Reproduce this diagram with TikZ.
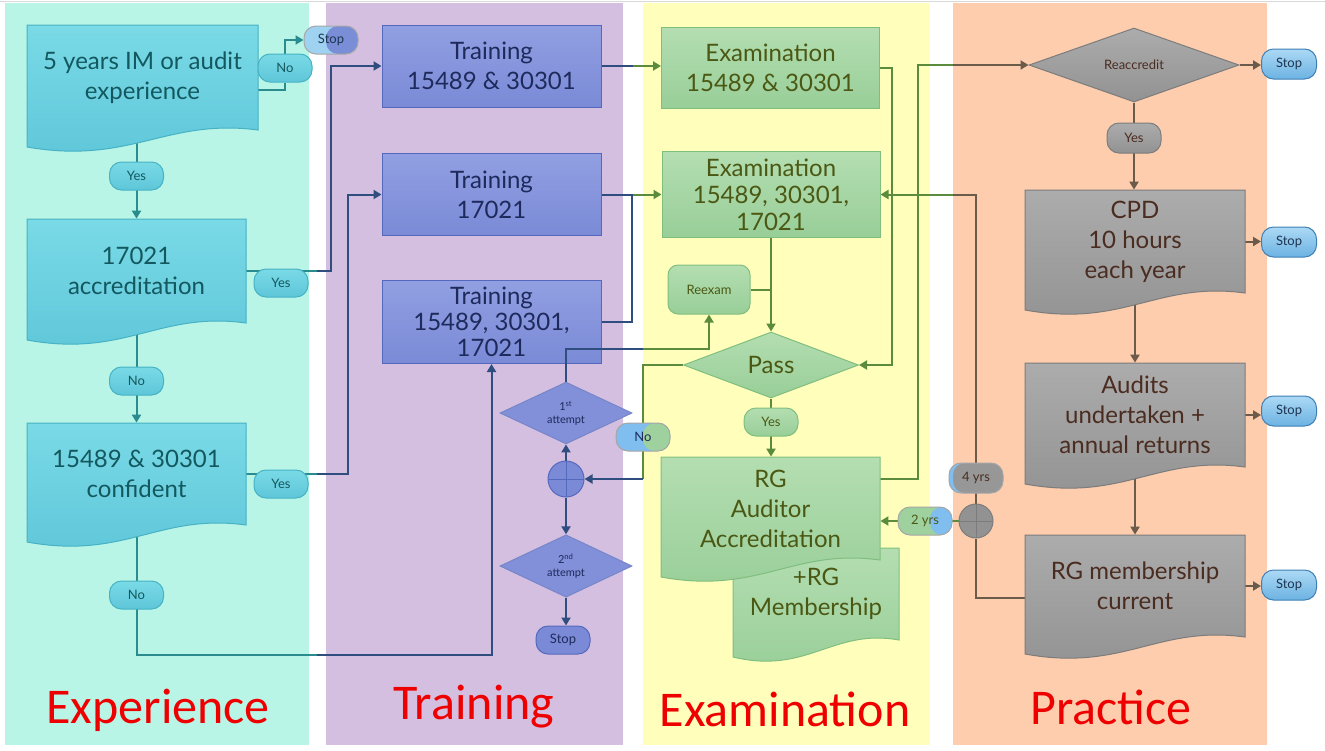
\documentclass[tikz,border=0pt]{standalone}
\usepackage{fontspec}
\setmainfont{Lato}
\newfontfamily\titlefont{Carlito}
\usetikzlibrary{shapes.geometric,arrows.meta}
\pgfdeclarelayer{bands}
\pgfdeclarelayer{lines}
\pgfsetlayers{bands,lines,main}
\definecolor{expband}{HTML}{B9F5E6}
\definecolor{trband}{HTML}{D5BFE0}
\definecolor{exband}{HTML}{FFFFBB}
\definecolor{prband}{HTML}{FDCDAE}
\definecolor{exptop}{HTML}{7ADAE6}
\definecolor{expbot}{HTML}{5EC6D9}
\definecolor{expdraw}{HTML}{46B2C4}
\definecolor{exptext}{HTML}{13585F}
\definecolor{expline}{HTML}{2B8C8F}
\definecolor{trtop}{HTML}{919FE2}
\definecolor{trbot}{HTML}{7A8AD6}
\definecolor{trdraw}{HTML}{5468BC}
\definecolor{trtext}{HTML}{1E2A5C}
\definecolor{trline}{HTML}{2F4D7E}
\definecolor{extop}{HTML}{B4DEB1}
\definecolor{exbot}{HTML}{98CE98}
\definecolor{exdraw}{HTML}{80BE80}
\definecolor{extext}{HTML}{4B5814}
\definecolor{exline}{HTML}{5B8C3E}
\definecolor{prtop}{HTML}{ACACAC}
\definecolor{prbot}{HTML}{929292}
\definecolor{prdraw}{HTML}{7C7C7C}
\definecolor{prtext}{HTML}{4A2C20}
\definecolor{prline}{HTML}{6B5B4B}
\definecolor{stoptop}{HTML}{ACD9F5}
\definecolor{stopbot}{HTML}{6CB2E2}
\definecolor{stopdraw}{HTML}{3F7FB5}
\definecolor{stoptext}{HTML}{1D3550}
\definecolor{splitblue}{HTML}{80BEEF}
\definecolor{titlered}{HTML}{EE0000}
\begin{document}
\begin{tikzpicture}[x=0.5pt,y=-0.5pt,
  txt/.style={align=center,font=\fontsize{12}{15}\selectfont},
  conn/.style={line width=1pt},
  arr/.style={arrows=-{Triangle[length=4pt,width=4.5pt]}},
  pill/.style={rounded corners=6pt,minimum width=27pt,minimum height=14pt,inner sep=0pt,
    font=\fontsize{6.5}{7}\selectfont,draw,line width=0.5pt},
  exppill/.style={pill,draw=expdraw,top color=exptop,bottom color=expbot,text=exptext},
  expill/.style={pill,draw=exdraw,top color=extop,bottom color=exbot,text=extext},
  prpill/.style={pill,draw=prdraw,top color=prtop,bottom color=prbot,text=prtext},
  stoppill/.style={pill,minimum width=27.5pt,minimum height=15pt,draw=stopdraw,
    top color=stoptop,bottom color=stopbot,text=stoptext},
  splitpill/.style n args={3}{pill,draw=black!35,fill=#1,
    path picture={\fill[#2] (#3 |- path picture bounding box.north) rectangle (path picture bounding box.south east);}},
  expdoc/.style={draw=expdraw,line width=0.5pt,top color=exptop,bottom color=expbot},
  exdoc/.style={draw=exdraw,line width=0.5pt,top color=extop,bottom color=exbot},
  prdoc/.style={draw=prdraw,line width=0.5pt,top color=prtop,bottom color=prbot},
  trbox/.style={txt,text=trtext,draw=trdraw,line width=0.5pt,top color=trtop,bottom color=trbot,
    minimum width=109.5pt,minimum height=41pt},
  exbox/.style={txt,text=extext,draw=exdraw,line width=0.5pt,top color=extop,bottom color=exbot,
    minimum width=109pt,minimum height=40.5pt},
  diam/.style={diamond,inner sep=0pt,draw,line width=0.5pt},
  junc/.style={circle,minimum size=18pt,inner sep=0pt,draw,line width=0.5pt,
    path picture={\draw (path picture bounding box.west) -- (path picture bounding box.east)
      (path picture bounding box.north) -- (path picture bounding box.south);}},
  title/.style={font=\titlefont\fontsize{25}{30}\selectfont,text=titlered}]
\useasboundingbox (0,0) rectangle (1325,750);

% column bands
\begin{pgfonlayer}{bands}
\fill[white] (0,0) rectangle (1325,750);
\draw[black!15] (0,1) -- (1325,1);
\fill[expband] (5,3) rectangle (309,745);
\fill[trband] (326,3) rectangle (623,745);
\fill[exband] (643,3) rectangle (930,745);
\fill[prband] (953,3) rectangle (1267,745);
\end{pgfonlayer}

\coordinate (expR) at (317,0);
\coordinate (trL) at (326,0);
\coordinate (trR) at (633,0);
\coordinate (exL) at (643,0);
\coordinate (exR) at (930,0);
\coordinate (prL) at (953,0);
\coordinate (bot) at (0,655);
\coordinate (reexturn) at (643,349);
\coordinate (nocorner) at (643,479);

% Experience
\foreach \nm/\xa/\ya/\xb/\yb/\lbl in {e1/27/25/258/130/{5 years IM or audit\\experience},
    e2/27/219/246/323/{17021\\accreditation},
    e3/27/423/246/525/{15489 \& 30301\\confident}}
{
  \path[expdoc] (\xa,\ya) -- (\xb,\ya) -- (\xb,\yb)
    .. controls ({\xa+0.6*(\xb-\xa)},\yb-12) and ({\xa+0.45*(\xb-\xa)},\yb+35) .. (\xa,\yb+17) -- cycle;
  \node[txt,text=exptext,minimum width={(\xb-\xa)*0.5pt},minimum height={(\yb-\ya)*0.5pt}]
    (\nm) at ({(\xa+\xb)/2},{(\ya+\yb)/2}) {\lbl};
}
\node[exppill] (no1) at (285,68) {No};
\node[splitpill={stoptop!80!stopbot}{trbot!90!stopbot}{trL},text=stoptext] (stop1) at (331,40) {Stop};
\node[exppill] (yes1) at (136.5,176) {Yes};
\node[exppill] (yes2) at (281,283) {Yes};
\node[exppill] (no2) at (136.5,381) {No};
\node[exppill] (yes3) at (281,484) {Yes};
\node[exppill] (no4) at (136.5,595) {No};

% Training
\node[trbox] (t1) at (491.5,66) {Training\\15489 \& 30301};
\node[trbox] (t2) at (491.5,194.5) {Training\\17021};
\node[trbox,font=\fontsize{12}{13}\selectfont] (t3) at (491.5,322) {Training\\15489, 30301,\\17021};
\node[diam,fill=trbot!95!white,draw=trdraw!80,text=trtext,minimum width=66pt,minimum height=26pt,
  align=center,font=\fontsize{5.5}{6.5}\selectfont] (att1) at (566,413) {1\textsuperscript{st}\\attempt};
\node[junc,fill=trbot,draw=trdraw] (junc1) at (566,479) {};
\node[diam,fill=trbot!95!white,draw=trdraw!80,text=trtext,minimum width=66pt,minimum height=26pt,
  align=center,font=\fontsize{5.5}{6.5}\selectfont] (att2) at (566,566) {2\textsuperscript{nd}\\attempt};
\node[pill,draw=trdraw,fill=trbot,text=trtext] (stop2) at (563,640) {Stop};

% Examination
\node[exbox] (x1) at (770.5,67.5) {Examination\\15489 \& 30301};
\node[exbox,font=\fontsize{12}{13.5}\selectfont] (x2) at (771,194.5) {Examination\\15489, 30301,\\17021};
\node[pill,rounded corners=5pt,minimum width=41pt,minimum height=24.5pt,draw=exdraw,
  top color=extop,bottom color=exbot,text=extext] (reexam) at (709,289.5) {Reexam};
\node[diam,draw=exdraw,top color=extop,bottom color=exbot,text=extext,minimum width=87.5pt,
  minimum height=33pt,font=\fontsize{12}{14}\selectfont] (pass) at (771,365) {Pass};
\node[expill] (yes5) at (771,422) {Yes};
\node[splitpill={splitblue}{exbot!80!extop}{exL},text=trtext] (no3) at (643,437) {No};
\foreach \nm/\xa/\ya/\xb/\yb/\lbl in {mem/733/548/899/640/{+RG\\Membership},
    rg/661/457/880/560/{RG\\Auditor\\Accreditation}}
{
  \path[exdoc] (\xa,\ya) -- (\xb,\ya) -- (\xb,\yb)
    .. controls ({\xa+0.6*(\xb-\xa)},\yb-12) and ({\xa+0.45*(\xb-\xa)},\yb+35) .. (\xa,\yb+17) -- cycle;
  \node[txt,text=extext,minimum width={(\xb-\xa)*0.5pt},minimum height={(\yb-\ya)*0.5pt}]
    (\nm) at ({(\xa+\xb)/2},{(\ya+\yb)/2}) {\lbl};
}
\node[splitpill={exbot!80!extop}{splitblue}{exR},text=extext] (yrs2) at (925,521) {2 yrs};

% Practice
\node[diam,draw=prdraw,top color=prtop,bottom color=prbot,text=prtext,minimum width=105pt,
  minimum height=37pt,font=\fontsize{6.5}{7}\selectfont] (reacc) at (1134,65) {Reaccredit};
\node[prpill,minimum height=15pt] (yes6) at (1134,138) {Yes};
\foreach \nm/\xa/\ya/\xb/\yb/\lbl in {cpd/1025/190/1245/293/{CPD\\10 hours\\each year},
    aud/1025/363/1245/467/{Audits\\undertaken +\\annual returns},
    rgm/1025/535/1245/637/{RG membership\\current}}
{
  \path[prdoc] (\xa,\ya) -- (\xb,\ya) -- (\xb,\yb)
    .. controls ({\xa+0.6*(\xb-\xa)},\yb-12) and ({\xa+0.45*(\xb-\xa)},\yb+35) .. (\xa,\yb+17) -- cycle;
  \node[txt,text=prtext,minimum width={(\xb-\xa)*0.5pt},minimum height={(\yb-\ya)*0.5pt}]
    (\nm) at ({(\xa+\xb)/2},{(\ya+\yb)/2}) {\lbl};
}
\node[stoppill] (stop3) at (1289,64) {Stop};
\node[stoppill] (stop4) at (1289,242) {Stop};
\node[stoppill] (stop5) at (1289,411) {Stop};
\node[stoppill] (stop6) at (1289,585) {Stop};
\node[junc,minimum size=17pt,fill=prbot,draw=prdraw] (junc2) at (976,521) {};
\node[splitpill={splitblue}{prbot!80!prtop}{prL},minimum height=15pt,text=prtext] (yrs4) at (976,478) {4 yrs};

% column titles
\node[title] (ttlexp) at (158,710) {Experience};
\node[title] (ttltr) at (474,707) {Training};
\node[title] (ttlex) at (785,709) {Examination};
\node[title] (ttlpr) at (1111,707) {Practice};

% 1st attempt back to Reexam, drawn over the training box
\draw[trline,conn] (att1.north) |- (reexturn);
\draw[exline,conn,arr] (reexturn) -| (reexam.south);

% connectors
\begin{pgfonlayer}{lines}
\draw[expline,conn,arr] ([yshift=-6.25pt]e1.east) -| (no1) |- (stop1);
\draw[expline,conn,arr] (e1.south -| e2.north) -- (e2.north);
\draw[expline,conn,arr] (e2.south) -- (e3.north);
\draw[expline,conn] (e2.east) -- (e2.east -| expR);
\draw[trline,conn,arr] (e2.east -| expR) -- ++(14,0) |- (t1.west);
\draw[expline,conn] (e3.east) -- (e3.east -| expR);
\draw[trline,conn,arr] (e3.east -| expR) -- ++(31,0) |- (t2.west);
\draw[expline,conn] (e3.south) |- (expR |- bot);
\draw[trline,conn,arr] (expR |- bot) -| (t3.south);

\draw[trline,conn] (t1.east) -- (t1.east -| trR);
\draw[exline,conn,arr] (t1.east -| trR) -- (t1.east -| x1.west);
\draw[trline,conn] (t2.east) -- (t2.east -| trR);
\draw[exline,conn,arr] (t2.east -| trR) -- (t2.east -| x2.west);
\draw[trline,conn] (t3.east) -- ++(30,0) -- ++(0,-127.5);
\draw[trline,conn,arr] (junc1.north) -- (att1.south);
\draw[trline,conn,arr] (junc1.south) -- (att2.north);
\draw[trline,conn,arr] (att2.south) -- (att2.south |- stop2.north);

\draw[exline,conn] (pass.west) -| (nocorner);
\draw[trline,conn,arr] (nocorner) -- (junc1.east);
\draw[exline,conn,arr] (x2.south) -- (pass.north);
\draw[exline,conn] (reexam.east) -- (reexam.east -| pass.north);
\draw[exline,conn,arr] (pass.south) -- (pass.south |- rg.north);
\draw[exline,conn,arr] (x1.east) -- ++(12,0) |- (pass.east);
\draw[exline,conn] ([yshift=15pt]rg.east) -- ++(38,0) |- (prL |- reacc.west);
\draw[prline,conn,arr] (prL |- reacc.west) -- (reacc.west);

\draw[prline,conn,arr] (reacc.east) -- (reacc.east -| stop3.west);
\draw[prline,conn,arr] (reacc.south) -- (reacc.south |- cpd.north);
\draw[prline,conn,arr] (cpd.east) -- (cpd.east -| stop4.west);
\draw[prline,conn,arr] (cpd.south) -- (aud.north);
\draw[prline,conn,arr] (aud.east) -- (aud.east -| stop5.west);
\draw[prline,conn,arr] (aud.south) -- (rgm.north);
\draw[prline,conn,arr] (rgm.east) -- (rgm.east -| stop6.west);
\draw[prline,conn] ([yshift=-6pt]rgm.west) -| (junc2.south);
\draw[prline,conn] (junc2.north) |- (prL |- x2.east);
\draw[exline,conn,arr] (prL |- x2.east) -- (x2.east);
\draw[exline,conn,arr] (junc2.west) -- (junc2.west -| rg.east);
\end{pgfonlayer}
\end{tikzpicture}
\end{document}
